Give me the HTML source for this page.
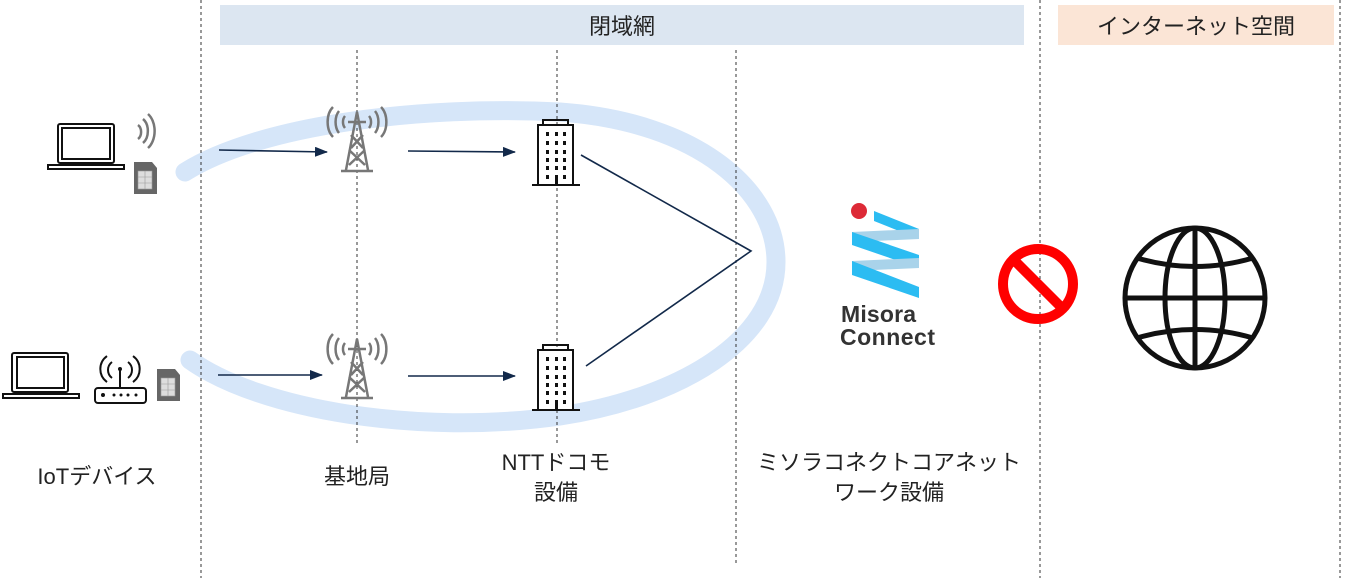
<!DOCTYPE html>
<html><head><meta charset="utf-8"><style>
body{margin:0;background:#fff;}
svg{display:block}
text{font-family:"Liberation Sans","Noto Sans CJK JP",sans-serif;}
</style></head><body>
<svg width="1353" height="582" viewBox="0 0 1353 582" xmlns="http://www.w3.org/2000/svg">
<rect x="220" y="5" width="804" height="40" fill="#dce6f1"/>
<text x="622" y="34" font-size="22" text-anchor="middle" fill="#222">閉域網</text>
<rect x="1058" y="5" width="276" height="40" fill="#fbe5d6"/>
<text x="1196" y="34" font-size="22" text-anchor="middle" fill="#222">インターネット空間</text>
<!-- ring -->
<path d="M185,172 C260,125 420,105 560,112 C700,122 776,192 776,262 C776,340 680,398 560,416 C420,436 260,410 190,360" fill="none" stroke="#d6e6f9" stroke-width="19" stroke-linecap="round"/>
<!-- dashed lines -->
<g stroke="#333" stroke-width="1" stroke-dasharray="3,3">
<line x1="201" y1="0" x2="201" y2="578"/>
<line x1="357" y1="50" x2="357" y2="445"/>
<line x1="557" y1="50" x2="557" y2="445"/>
<line x1="736" y1="50" x2="736" y2="565"/>
<line x1="1040" y1="0" x2="1040" y2="578"/>
<line x1="1340" y1="0" x2="1340" y2="578"/>
</g>
<!-- laptops -->
<g fill="none" stroke="#111" stroke-width="2">
<rect x="58" y="124" width="56" height="39" rx="2"/><rect x="62" y="128" width="48" height="31"/>
<path d="M48,165 h76 v4 h-76 z"/>
<rect x="12" y="353" width="56" height="39" rx="2"/><rect x="17" y="357" width="47" height="31"/>
<path d="M3,394 h76 v4 h-76 z"/>
<rect x="95" y="388" width="51" height="15" rx="3"/>
<line x1="120" y1="388" x2="120" y2="370"/>
<path d="M112,362 a10,10 0 0 0 0,16 M128,362 a10,10 0 0 1 0,16 M107,356 a16,16 0 0 0 0,26 M133,356 a16,16 0 0 1 0,26"/>
</g>
<g fill="#111"><circle cx="103" cy="395" r="2"/><circle cx="114" cy="395" r="1.5"/><circle cx="121" cy="395" r="1.5"/><circle cx="128" cy="395" r="1.5"/><circle cx="136" cy="395" r="1.5"/><circle cx="120" cy="369" r="2"/></g>
<!-- wifi waves -->
<g fill="none" stroke="#777" stroke-width="2.5"><path d="M138,125 a6,8 0 0 1 0,14 M143,119 a10,14 0 0 1 0,24 M148,114 a14,20 0 0 1 0,34"/></g>
<!-- SIMs -->
<g fill="#666"><path d="M134,162 h18 l5,6 v26 h-23z"/><path d="M157,369 h18 l5,6 v26 h-23z"/></g>
<g fill="#ddd" stroke="#999" stroke-width="0.6"><rect x="138" y="171" width="14" height="18"/><rect x="161" y="378" width="14" height="18"/>
<path d="M138,177 h14 M138,183 h14 M145,171 v18 M168,378 v18 M161,384 h14 M161,390 h14"/></g>
<!-- towers -->
<g id="tw" fill="none" stroke="#777" stroke-width="2.5">
<path d="M357,112 L346,170 M357,112 L368,170 M341,171 h32 M349,150 L365,165 M365,150 L349,165 M351,135 L363,148 M363,135 L351,148"/>
<path d="M348,122 h18"/>
<path d="M345,116 a6,8 0 0 0 0,12 M369,116 a6,8 0 0 1 0,12 M339,111 a9,14 0 0 0 0,22 M375,111 a9,14 0 0 1 0,22 M333,107 a12,18 0 0 0 0,30 M381,107 a12,18 0 0 1 0,30"/>
</g>
<use href="#tw" y="227"/>
<!-- buildings -->
<g id="bd">
<rect x="538" y="125" width="35" height="60" fill="#fff" stroke="#111" stroke-width="2"/>
<rect x="543" y="120" width="25" height="5" fill="none" stroke="#111" stroke-width="2"/>
<line x1="532" y1="185" x2="580" y2="185" stroke="#111" stroke-width="2"/>
<g fill="#111">
<rect x="546" y="132" width="3" height="4"/><rect x="555" y="132" width="3" height="4"/><rect x="563" y="132" width="3" height="4"/>
<rect x="546" y="141" width="3" height="4"/><rect x="555" y="141" width="3" height="4"/><rect x="563" y="141" width="3" height="4"/>
<rect x="546" y="150" width="3" height="4"/><rect x="555" y="150" width="3" height="4"/><rect x="563" y="150" width="3" height="4"/>
<rect x="546" y="158" width="3" height="4"/><rect x="555" y="158" width="3" height="4"/><rect x="563" y="158" width="3" height="4"/>
<rect x="546" y="166" width="3" height="4"/><rect x="555" y="166" width="3" height="4"/><rect x="563" y="166" width="3" height="4"/>
<rect x="546" y="175" width="3" height="4"/><rect x="563" y="175" width="3" height="4"/><rect x="555" y="175" width="3" height="10"/>
</g></g>
<use href="#bd" y="225"/>
<!-- arrows -->
<defs><marker id="ah" markerWidth="13" markerHeight="10" refX="12" refY="5" orient="auto" markerUnits="userSpaceOnUse"><path d="M0,0 L13,5 L0,10z" fill="#12294a"/></marker></defs>
<g stroke="#12294a" stroke-width="1.6" marker-end="url(#ah)">
<line x1="219" y1="150" x2="327" y2="152"/>
<line x1="408" y1="151" x2="515" y2="152"/>
<line x1="218" y1="375" x2="322" y2="375"/>
<line x1="408" y1="376" x2="515" y2="376"/>
</g>
<polyline points="581,155 751,251 586,366" fill="none" stroke="#12294a" stroke-width="1.6"/>
<!-- Misora logo -->
<circle cx="859" cy="211" r="8" fill="#dd2a37"/>
<path d="M874,211 L919,229 V239 L874,221Z" fill="#2cbcf2"/>
<path d="M852,232 L919,229 V239 L852,242Z" fill="#a9d3ea"/>
<path d="M852,232 L919,255 V268 L852,245Z" fill="#2cbcf2"/>
<path d="M852,261 L919,258 V268 L852,271Z" fill="#a9d3ea"/>
<path d="M852,261 L919,287 V298 L852,275Z" fill="#2cbcf2"/>
<text x="841" y="322" font-size="23" font-weight="bold" fill="#333" textLength="75">Misora</text>
<text x="840" y="345" font-size="23" font-weight="bold" fill="#333" textLength="95">Connect</text>
<!-- prohibition -->
<circle cx="1038" cy="284" r="35" fill="none" stroke="#f00" stroke-width="10"/>
<line x1="1014" y1="260" x2="1062" y2="308" stroke="#f00" stroke-width="10"/>
<!-- globe -->
<g fill="none" stroke="#111" stroke-width="5">
<circle cx="1195" cy="298" r="70"/>
<ellipse cx="1195" cy="298" rx="30" ry="70"/>
<line x1="1195" y1="228" x2="1195" y2="368"/>
<line x1="1125" y1="298" x2="1265" y2="298"/>
<path d="M1137,258 Q1195,275 1253,258 M1137,338 Q1195,321 1253,338"/>
</g>
<!-- labels -->
<g font-size="22" fill="#222" text-anchor="middle">
<text x="97" y="484">IoTデバイス</text>
<text x="357" y="484">基地局</text>
<text x="556" y="470">NTTドコモ</text>
<text x="556" y="500">設備</text>
<text x="889" y="470">ミソラコネクトコアネット</text>
<text x="889" y="500">ワーク設備</text>
</g>
</svg>
</body></html>
